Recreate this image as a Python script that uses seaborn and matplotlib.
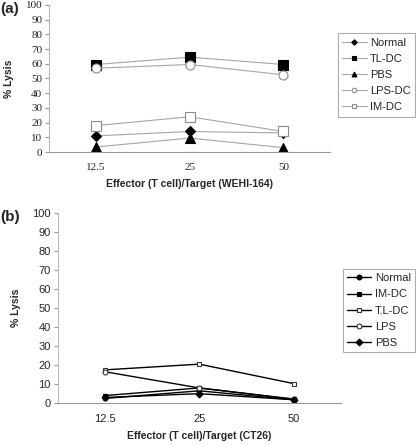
import numpy as np
import pandas as pd
from matplotlib import pyplot as plt
import seaborn as sns

ratios = ["12.5", "25", "50"]

# (a) WEHI-164 targets
a_names = ["Normal", "TL-DC", "PBS", "LPS-DC", "IM-DC"]
a_normal = [11, 14, 13]
a_tldc = [59.5, 64.5, 59.5]
a_pbs = [3.5, 9.5, 3]
a_lpsdc = [57, 59.5, 52.5]
a_imdc = [18, 24, 14]

# (b) CT26 targets
b_names = ["Normal", "IM-DC", "T.L-DC", "LPS", "PBS"]
b_normal = [2.5, 6.5, 1.8]
b_imdc = [4, 8, 2]
b_tldc = [17.5, 20.5, 10.3]
b_lps = [16.5, 8, 2.2]
b_pbs = [3, 5, 1.8]

sns.set_style("white")
plt.rcParams['font.family'] = ['Liberation Sans', 'DejaVu Sans']

fig = plt.figure(figsize=(4.16, 4.46), dpi=100)
ax1 = fig.add_axes([0.118, 0.659, 0.676, 0.33])
ax2 = fig.add_axes([0.139, 0.096, 0.68, 0.427])

# marker styles: (marker, size, facecolor, edgecolor)
a_style = [("D", 5.5, "black", "black"), ("s", 6.5, "black", "black"),
           ("^", 7, "black", "black"), ("o", 6.5, "white", "#8c8c8c"),
           ("s", 6.5, "white", "#8c8c8c")]
b_style = [("o", 3.5, "black", "black"), ("s", 3.5, "black", "black"),
           ("s", 3.5, "white", "#333333"), ("o", 3.5, "white", "#333333"),
           ("D", 3.5, "black", "black")]

a_vals = [a_normal, a_tldc, a_pbs, a_lpsdc, a_imdc]
b_vals = [b_normal, b_imdc, b_tldc, b_lps, b_pbs]

for name, vals, st in zip(a_names, a_vals, a_style):
    sns.lineplot(x=ratios, y=vals, ax=ax1, sort=False, color="#a6a6a6", lw=0.8,
                 marker=st[0], ms=st[1], mfc=st[2], mec=st[3], mew=0.8, label=name)

for name, vals, st in zip(b_names, b_vals, b_style):
    sns.lineplot(x=ratios, y=vals, ax=ax2, sort=False, color="black", lw=1.0,
                 marker=st[0], ms=st[1], mfc=st[2], mec=st[3], mew=0.8, label=name)

for ax, serif in [(ax1, True), (ax2, False)]:
    ax.set_xlim(-0.5, 2.5)
    ax.set_ylim(0, 100)
    ax.set_yticks(np.arange(0, 101, 10))
    ax.set_xticks([-0.5, 0.5, 1.5, 2.5], minor=True)
    ax.tick_params(axis='x', which='major', length=0, pad=8)
    ax.tick_params(axis='x', which='minor', length=4, direction='in', color='#999999', width=0.8)
    ax.tick_params(axis='y', length=3, direction='out', color='#999999', width=0.8, pad=2, left=True)
    for s in ['top', 'right']:
        ax.spines[s].set_visible(False)
    ax.spines['left'].set_color('#bbbbbb')
    ax.spines['bottom'].set_color('#999999')
    ax.set_ylabel("% Lysis", fontsize=7.5, fontweight='bold', labelpad=8)
    if serif:
        for t in ax.get_xticklabels() + ax.get_yticklabels():
            t.set_family('Liberation Serif')
            t.set_fontsize(8)
    else:
        ax.tick_params(labelsize=8)

ax1.set_xlabel("Effector (T cell)/Target (WEHI-164)", fontsize=7.5, fontweight='bold', labelpad=5)
ax2.set_xlabel("Effector (T cell)/Target (CT26)", fontsize=7.5, fontweight='bold', labelpad=5)

leg_kw = dict(bbox_transform=fig.transFigure, loc='upper right', fontsize=8,
              frameon=True, fancybox=False, edgecolor='#999999', handlelength=2.2,
              handletextpad=0.3, borderpad=0.4, labelspacing=0.55, borderaxespad=0)
l1 = ax1.legend(bbox_to_anchor=(0.998, 0.925), markerscale=0.5, **leg_kw)
l2 = ax2.legend(bbox_to_anchor=(0.998, 0.397), markerscale=1.0, **leg_kw)
for l in (l1, l2):
    l.get_frame().set_linewidth(0.8)

fig.text(0.0, 0.995, "(a)", fontsize=11, fontweight='bold', va='top')
fig.text(0.0, 0.53, "(b)", fontsize=11, fontweight='bold', va='top')

fig.savefig("out.png", dpi=100)
